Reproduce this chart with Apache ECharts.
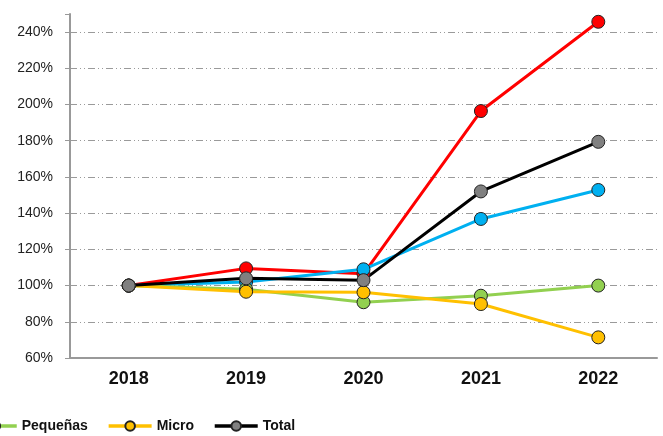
<!DOCTYPE html>
<html><head><meta charset="utf-8">
<script src="https://cdn.jsdelivr.net/npm/echarts@6/dist/echarts.min.js"></script>
<style>html,body{margin:0;padding:0;background:#fff}#c{width:663px;height:436px}</style>
</head><body><div id="c"></div>
<script>
const years = ['2018','2019','2020','2021','2022'];
const grandes  = [100, 109.5, 106.5, 196.4, 245.7];
const medianas = [100, 102, 109, 136.8, 152.8];
const pequenas = [100, 98, 90.8, 94.4, 100];
const micro    = [100, 96.6, 96.3, 89.8, 71.4];
const total    = [100, 104, 103, 152, 179.4];
const yTicks = {min: 60, max: 250, interval: 20};

const sans = "'Liberation Sans',Arial,sans-serif";
function mk(name, data, line, fill) {
  return {
    name, type: 'line', data,
    symbol: 'circle', symbolSize: 13,
    lineStyle: {color: line, width: 3},
    itemStyle: {color: fill, borderColor: '#222', borderWidth: 1},
    emphasis: {disabled: true}, animation: false
  };
}
const chart = echarts.init(document.getElementById('c'));
const gridColors = [];
for (let v = yTicks.min; v <= yTicks.max; v += yTicks.interval) gridColors.push('#9a9a9a');
gridColors.push('rgba(0,0,0,0)');
chart.setOption({
  animation: false,
  grid: {left: 70, right: 6, top: 14, bottom: 78},
  legend: {
    data: ['Pequeñas', 'Micro', 'Total'],
    left: -33, top: 414,
    itemWidth: 43, itemHeight: 12, itemGap: 19,
    lineStyle: {width: 3.5},
    textStyle: {fontFamily: sans, fontWeight: 'bold', fontSize: 14, color: '#111'}
  },
  xAxis: {
    type: 'category', data: years, boundaryGap: true,
    axisLine: {lineStyle: {color: '#999', width: 2}},
    axisTick: {show: false},
    axisLabel: {fontFamily: sans, fontWeight: 'bold', fontSize: 18, color: '#111', margin: 12}
  },
  yAxis: {
    type: 'value', min: yTicks.min, max: yTicks.max, interval: yTicks.interval,
    axisLine: {show: true, lineStyle: {color: '#999', width: 2}},
    axisTick: {show: true, length: 5, lineStyle: {color: '#999'}},
    axisLabel: {
      fontFamily: sans, fontSize: 14, color: '#222', margin: 17,
      formatter: v => v > 240 ? '' : v + '%'
    },
    splitLine: {show: true, lineStyle: {color: gridColors, type: [7, 3, 1, 3, 1, 3], width: 1}}
  },
  series: [
    mk('Grandes', grandes, '#ff0000', '#ff0000'),
    mk('Medianas', medianas, '#00b0f0', '#00b0f0'),
    mk('Pequeñas', pequenas, '#92d050', '#92d050'),
    mk('Micro', micro, '#ffc000', '#ffc000'),
    mk('Total', total, '#000000', '#808080')
  ]
});
</script></body></html>
